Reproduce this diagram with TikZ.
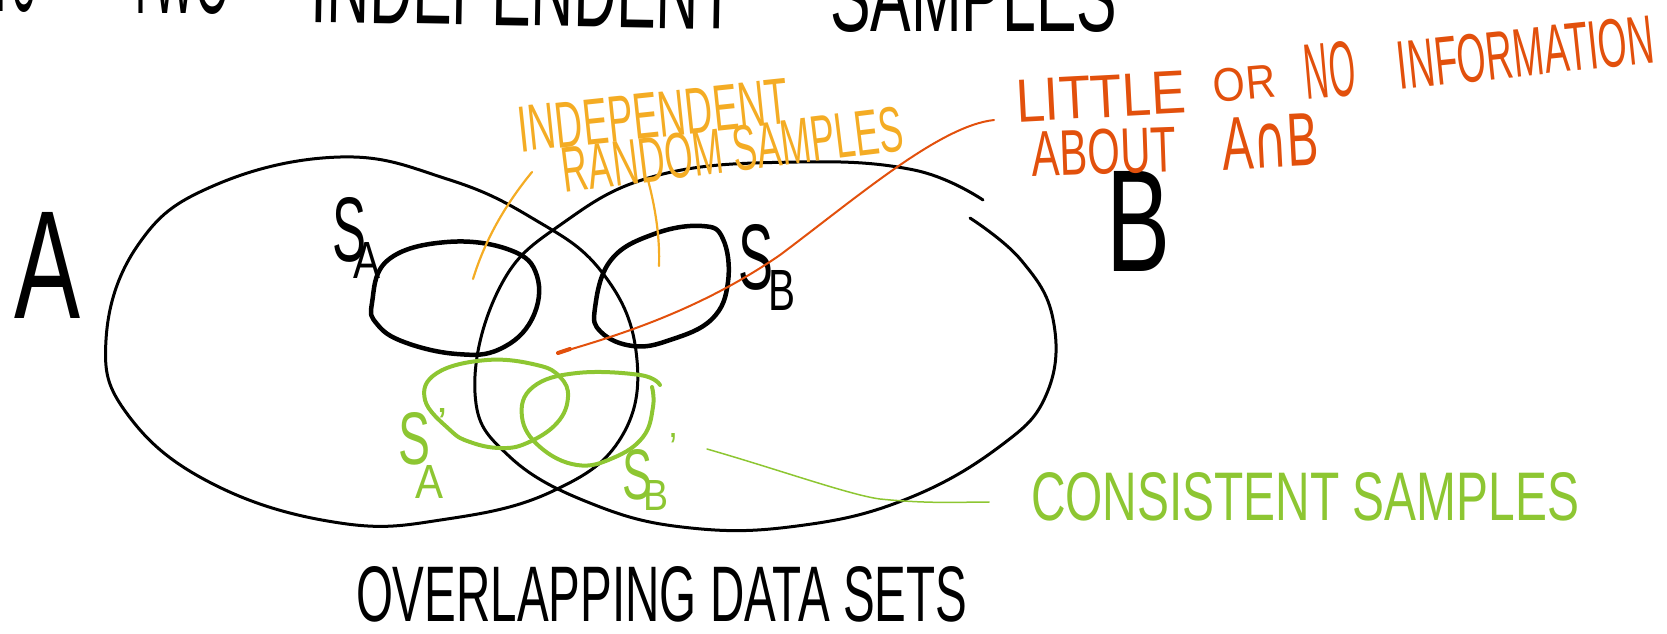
\documentclass[tikz,border=0pt]{standalone}
\usepackage{fontspec}
\setmainfont{Liberation Sans}
\newfontfamily\djv{DejaVu Sans}
\usepackage{graphicx}
\definecolor{hwgreen}{RGB}{141,198,50}
\definecolor{hworange}{RGB}{244,172,36}
\definecolor{hwred}{RGB}{226,80,12}
\newcommand{\hw}[3]{\resizebox{#1pt}{#2pt}{#3}}
\begin{document}
\begin{tikzpicture}[x=1pt,y=-1pt,
  lbl/.style={inner sep=0pt, outer sep=0pt, anchor=south west},
  setline/.style={line width=3pt, line cap=round, line join=round},
  blob/.style={line width=4.5pt, line cap=round, line join=round},
  gloop/.style={line width=4pt, hwgreen, line cap=round, line join=round},
  pointer/.style={line cap=round}]
\useasboundingbox (0,0) rectangle (1667,633);

% top cut-off title
\node[lbl] (t1) at (-8,12) {\hw{45}{70}{TO}};
\node[lbl] (t2) at (127,14) {\hw{103}{70}{TWO}};
\node[lbl, rotate=-1] (t3) at (310,22) {\hw{425}{70}{INDEPENDENT}};
\node[lbl] (t4) at (830,32) {\hw{287}{70}{SAMPLES}};

% data set A
\draw[setline] plot[smooth cycle, tension=0.7] coordinates {
 (106,340) (138,245) (213,186) (340,157) (447,179) (532,218) (601,271)
 (636,351) (622,436) (553,491) (447,519) (340,523) (213,484) (128,415)};
% data set B (open at top right)
\draw[setline] plot[smooth, tension=0.7] coordinates {
 (970,218) (1021,260) (1053,319) (1047,393) (999,447) (904,500) (797,526)
 (691,528) (595,505) (510,457) (475,393) (500,287) (563,223) (659,175)
 (797,162) (914,170) (983,200)};

% samples S_A and S_B
\draw[blob] plot[smooth cycle, tension=0.7] coordinates {
 (372,303) (388,260) (447,242) (510,250) (537,276) (532,319) (500,349)
 (457,354) (404,342) (377,324)};
\draw[blob] plot[smooth cycle, tension=0.7] coordinates {
 (595,308) (611,260) (654,234) (702,226) (723,239) (728,282) (712,319)
 (670,340) (633,346) (601,332)};

% consistent samples
\draw[gloop] plot[smooth cycle, tension=0.7] coordinates {
 (425,400) (437,373) (487,360) (537,365) (560,377) (568,397) (557,423)
 (527,443) (500,448) (470,442) (450,430)};
\draw[gloop] plot[smooth, tension=0.7] coordinates {
 (660,385) (640,375) (577,373) (533,387) (522,417) (540,447) (577,465)
 (613,458) (643,437) (653,407) (652,387)};

% black labels
\node[lbl] (A) at (14,318) {\hw{66}{106}{A}};
\node[lbl] (B) at (1106,271) {\hw{64}{100}{B}};
\node[lbl] (SA) at (332,262) {\hw{34}{64}{S}};
\node[lbl] (SAsub) at (353,278) {\hw{27}{36}{A}};
\node[lbl] (SB) at (738,290) {\hw{35}{65}{S}};
\node[lbl] (SBsub) at (768,310) {\hw{27}{40}{B}};

% green labels
\node[lbl, text=hwgreen] (SpA) at (398,465) {\hw{32}{52}{S}};
\node[lbl, text=hwgreen] (SpAp) at (437,437) {\hw{10}{29}{'}};
\node[lbl, text=hwgreen] (SpAsub) at (415,498) {\hw{28}{33}{A}};
\node[lbl, text=hwgreen] (SpB) at (622,500) {\hw{30}{50}{S}};
\node[lbl, text=hwgreen] (SpBp) at (669,462) {\hw{8}{29}{'}};
\node[lbl, text=hwgreen] (SpBsub) at (643,510) {\hw{25}{30}{B}};
\node[lbl, text=hwgreen] (cons) at (1031,521) {\hw{548}{48}{CONSISTENT SAMPLES}};

% orange labels
\node[lbl, text=hworange, rotate=6] (indep) at (520,152) {\hw{272}{45}{INDEPENDENT}};
\node[lbl, text=hworange, rotate=7] (rand) at (565,193) {\hw{343}{45}{RANDOM SAMPLES}};

% red labels
\node[lbl, text=hwred, rotate=3] (little) at (1017,122) {\hw{170}{42}{LITTLE}};
\node[lbl, text=hwred, rotate=5] (or) at (1215,103) {\hw{62}{33}{OR}};
\node[lbl, text=hwred, rotate=5] (no) at (1307,100) {\hw{51}{55}{NO}};
\node[lbl, text=hwred, rotate=6] (info) at (1400,90) {\hw{258}{48}{INFORMATION}};
\node[lbl, text=hwred, rotate=2] (about) at (1033,177) {\hw{144}{45}{ABOUT}};
\node[lbl, text=hwred, rotate=3] (aib) at (1223,170) {\hw{97}{52}{A{\djv ∩}B}};

% bottom title
\node[lbl] (over) at (356,622) {\hw{611}{55}{OVERLAPPING DATA SETS}};

% pointers
\coordinate (o1a) at (532,172);
\coordinate (o1b) at (473,279);
\coordinate (o2a) at (648,180);
\coordinate (o2b) at (659,266);
\draw[pointer, hworange, line width=2.2pt] (o1a) .. controls (505,205) and (485,240) .. (o1b);
\draw[pointer, hworange, line width=2.2pt] (o2a) .. controls (656,210) and (660,240) .. (o2b);

\coordinate (r1) at (994,120);
\coordinate (r2) at (558,353);
\draw[pointer, hwred, line width=2pt] (r1) .. controls (940,126) and (860,195) .. (780,255)
  .. controls (700,310) and (620,335) .. (r2);
\draw[pointer, hwred, line width=4pt] (r2) -- ++(12,-4);

\coordinate (g1) at (707,449);
\coordinate (g2) at (989,502);
\draw[pointer, hwgreen, line width=1.5pt] (g1) .. controls (780,470) and (850,495) .. (880,499)
  .. controls (930,504) and (960,502) .. (g2);
\end{tikzpicture}
\end{document}
